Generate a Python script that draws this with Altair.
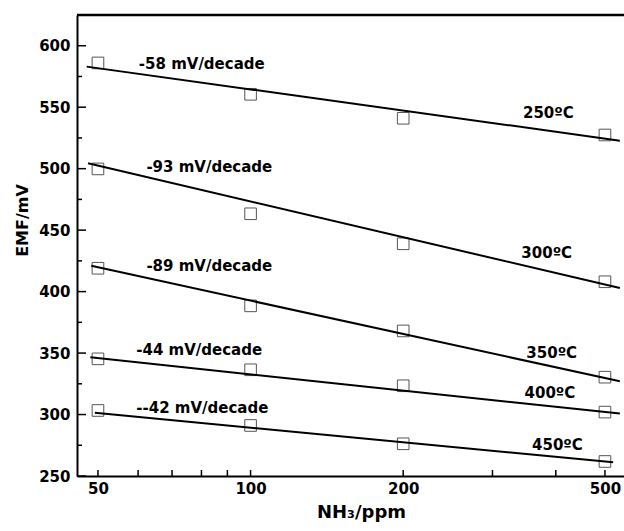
import altair as alt
import pandas as pd

# ---- data ----
conc = [50, 100, 200, 500]
temps = ["250ºC", "300ºC", "350ºC", "400ºC", "450ºC"]
emf_250 = [586.0, 560.5, 541.0, 527.4]
emf_300 = [499.8, 463.3, 438.9, 408.0]
emf_350 = [419.0, 388.4, 368.0, 330.4]
emf_400 = [345.3, 336.4, 323.4, 302.0]
emf_450 = [303.3, 291.1, 276.2, 261.8]

# fitted lines (end points)
fit_x_start = [47.5, 47.8, 48.5, 48.3, 49.3]
fit_x_end = [535, 535, 535, 535, 519]
fit_y_start = [583.0, 504.4, 421.0, 346.5, 301.4]
fit_y_end = [522.8, 402.9, 327.0, 300.8, 261.2]

slope_labels = ["-58 mV/decade", "-93 mV/decade", "-89 mV/decade",
                "-44 mV/decade", "--42 mV/decade"]
slope_label_x = [60.2, 62.3, 62.3, 59.5, 59.5]
slope_label_y = [585.1, 501.7, 420.7, 352.2, 305.4]
temp_label_x = [344.6, 342.0, 349.9, 347.0, 359.0]
temp_label_y = [545.1, 431.3, 350.1, 317.6, 275.6]

x_tick_labels = [50, 100, 200, 500]
x_ticks_minor = [60, 70, 80, 90, 300, 400]
y_tick_labels = [250, 300, 350, 400, 450, 500, 550, 600]
y_ticks_minor = [275, 325, 375, 425, 475, 525, 575]
y_top = [625]

# ---- tables ----
series = [emf_250, emf_300, emf_350, emf_400, emf_450]
pts = pd.DataFrame(
    [{"temp": t, "conc": c, "emf": v} for t, s in zip(temps, series) for c, v in zip(conc, s)]
)
fit_rows = []
for t, xs, xe, ys, ye in zip(temps, fit_x_start, fit_x_end, fit_y_start, fit_y_end):
    fit_rows.append({"temp": t, "conc": xs, "emf": ys})
    fit_rows.append({"temp": t, "conc": xe, "emf": ye})
fits = pd.DataFrame(fit_rows)
labels = pd.DataFrame(
    [{"text": s, "conc": x, "emf": y} for s, x, y in zip(slope_labels, slope_label_x, slope_label_y)]
    + [{"text": s, "conc": x, "emf": y} for s, x, y in zip(temps, temp_label_x, temp_label_y)]
)
xt_all = pd.DataFrame({"conc": x_tick_labels + x_ticks_minor})
yt_major = pd.DataFrame({"emf": y_tick_labels})
yt_minor = pd.DataFrame({"emf": y_ticks_minor})
top_df = pd.DataFrame({"emf": y_top})

FONT = "DejaVu Sans"
W, H = 547, 461
xscale = alt.Scale(type="log", domain=[45.46, 545.2], nice=False)
yscale = alt.Scale(domain=[250, 625], nice=False, zero=False)

x_axis = alt.Axis(
    values=x_tick_labels, format="d", ticks=False, grid=False,
    labelFont=FONT, labelFontWeight="bold", labelFontSize=15, labelColor="black",
    labelPadding=5, labelFlush=False, labelOverlap=False,
    domainColor="black", domainWidth=2,
    title="NH₃/ppm", titleFont=FONT, titleFontWeight="bold", titleFontSize=18,
    titleColor="black", titleX=284, titleY=36, titleAlign="center", titleBaseline="middle",
)
y_axis = alt.Axis(
    values=y_tick_labels, format="d", ticks=False, grid=False,
    labelFont=FONT, labelFontWeight="bold", labelFontSize=15, labelColor="black",
    labelPadding=7, labelFlush=False, labelOverlap=False,
    domainColor="black", domainWidth=2,
    title="EMF/mV", titleFont=FONT, titleFontWeight="bold", titleFontSize=16,
    titleColor="black", titleX=-55, titleY=205, titleAngle=270,
    titleAlign="center", titleBaseline="middle",
)

X = alt.X("conc:Q", scale=xscale, axis=x_axis)
Y = alt.Y("emf:Q", scale=yscale, axis=y_axis)

points = alt.Chart(pts).mark_point(
    shape="square", filled=False, size=135, color="#555555", strokeWidth=1, opacity=1
).encode(x=X, y=Y)

lines = alt.Chart(fits).mark_line(color="black", strokeWidth=2).encode(
    x=X, y=Y, detail="temp:N"
)

xticks = alt.Chart(xt_all).mark_rule(color="black", strokeWidth=1.5).encode(
    x=X, y=alt.value(H), y2=alt.value(H - 6)
)
yticks = alt.Chart(yt_major).mark_rule(color="black", strokeWidth=1.5).encode(
    y=Y, x=alt.value(0), x2=alt.value(9)
)
yticks_minor = alt.Chart(yt_minor).mark_rule(color="black", strokeWidth=1.5).encode(
    y=Y, x=alt.value(0), x2=alt.value(5)
)
top_border = alt.Chart(top_df).mark_rule(color="black", strokeWidth=2.5).encode(
    y=Y, x=alt.value(0), x2=alt.value(W)
)

texts = alt.Chart(labels).mark_text(
    align="left", baseline="middle", font=FONT, fontWeight="bold", fontSize=15, color="black"
).encode(x=X, y=Y, text="text:N")

chart = alt.layer(points, lines, xticks, yticks, yticks_minor, top_border, texts).properties(
    width=W, height=H,
    autosize=alt.AutoSizeParams(type="none"),
    padding={"left": 77, "top": 15, "right": 0, "bottom": 55},
    background="white",
).configure_view(stroke=None)

chart.save("out.html", embed_options={"renderer": "svg", "actions": False})
